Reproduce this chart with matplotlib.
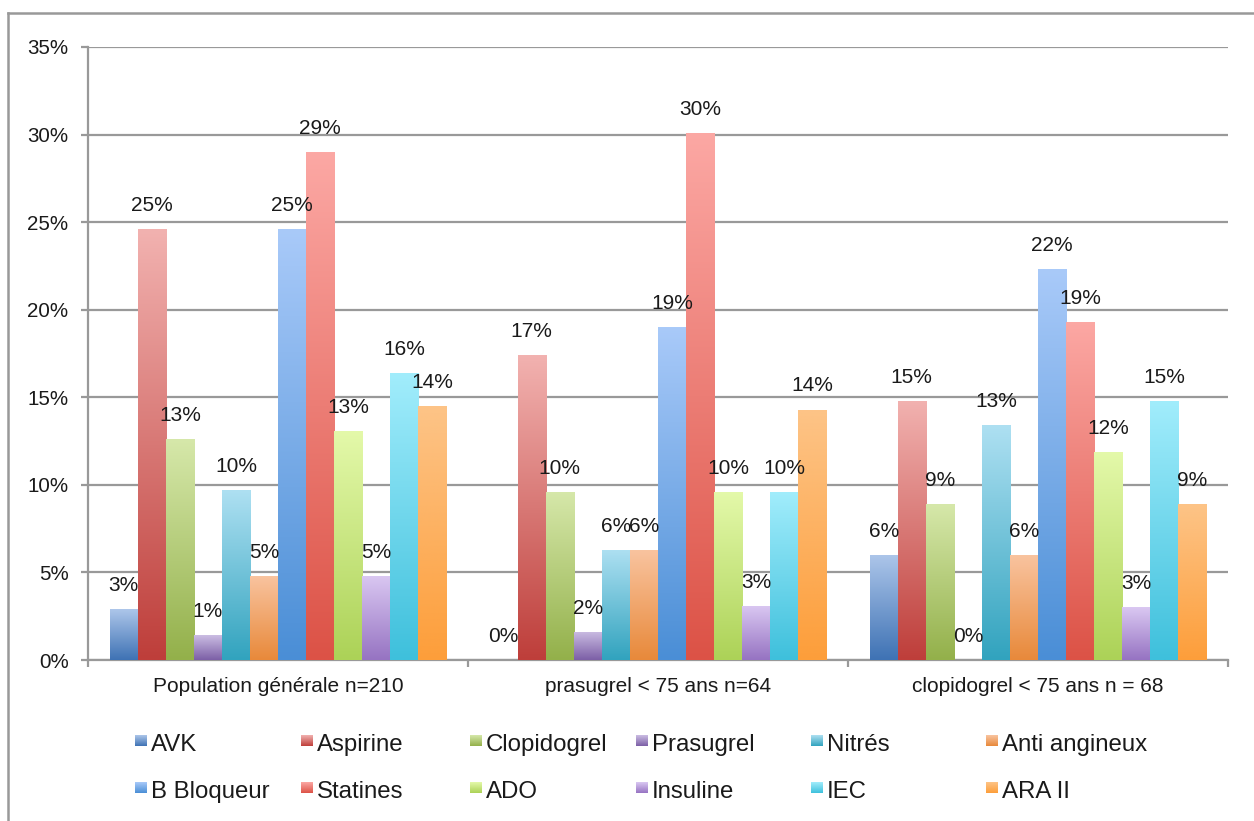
import numpy as np
import matplotlib
matplotlib.use("Agg")
import matplotlib.pyplot as plt
from matplotlib.colors import LinearSegmentedColormap
from matplotlib.lines import Line2D
from matplotlib.ticker import FuncFormatter

plt.rcParams['font.family'] = ['Liberation Sans', 'DejaVu Sans']

groups = ["Population générale n=210", "prasugrel < 75 ans n=64", "clopidogrel < 75 ans n = 68"]
series = ["AVK", "Aspirine", "Clopidogrel", "Prasugrel", "Nitrés", "Anti angineux",
          "B Bloqueur", "Statines", "ADO", "Insuline", "IEC", "ARA II"]

# values in %, one list per series (3 groups)
avk = [2.9, 0.0, 6.0]
aspirine = [24.6, 17.4, 14.8]
clopidogrel = [12.6, 9.6, 8.9]
prasugrel = [1.4, 1.6, 0.0]
nitres = [9.7, 6.3, 13.4]
anti_angineux = [4.8, 6.3, 6.0]
b_bloqueur = [24.6, 19.0, 22.3]
statines = [29.0, 30.1, 19.3]
ado = [13.1, 9.6, 11.9]
insuline = [4.8, 3.1, 3.0]
iec = [16.4, 9.6, 14.8]
ara2 = [14.5, 14.3, 8.9]

values = [avk, aspirine, clopidogrel, prasugrel, nitres, anti_angineux,
          b_bloqueur, statines, ado, insuline, iec, ara2]

# (top colour, bottom colour) for the vertical gradient
colors = [("#adc6ea", "#3e72b4"), ("#f2b2b0", "#be3e3a"), ("#d6e8aa", "#93b04a"),
          ("#cbbde3", "#7c5fa6"), ("#aee0f2", "#31a3be"), ("#f9c4a0", "#e8893a"),
          ("#a9caf9", "#4a8ed6"), ("#fca8a4", "#dc5246"), ("#e4f9aa", "#acd257"),
          ("#dac8f2", "#9673c2"), ("#a2edfc", "#3ec0dc"), ("#fdc487", "#fd9e3a")]

fig = plt.figure(figsize=(12.54, 8.21), dpi=100)
W, H = 1254, 821
ax = fig.add_axes([88 / W, 1 - 660 / H, (1228 - 88) / W, (660 - 47) / H])

n = len(series)
bw = 0.0738
x = np.arange(len(groups))
grad = np.linspace(0, 1, 256).reshape(-1, 1)

for i, (name, vals) in enumerate(zip(series, values)):
    off = -bw * n / 2 + bw * (i + 0.5)
    bars = ax.bar(x + off, vals, width=bw, color=colors[i][1], zorder=3, linewidth=0)
    cmap = LinearSegmentedColormap.from_list(name, [colors[i][1], colors[i][0]])
    for b, v in zip(bars, vals):
        if v > 0:
            x0 = b.get_x()
            im = ax.imshow(grad, cmap=cmap, origin="lower", aspect="auto",
                           extent=(x0, x0 + bw, 0, v), zorder=4)
            im.set_clip_path(b)
        ax.annotate(f"{v:.0f}%", (b.get_x() + bw / 2, v), xytext=(0, 13),
                    textcoords="offset points", ha="center", va="baseline",
                    fontsize=15, color="#1a1a1a", zorder=6)

ax.set_xlim(-0.5, 2.5)
ax.set_ylim(0, 35)
ax.set_yticks(np.arange(0, 36, 5))
ax.yaxis.set_major_formatter(FuncFormatter(lambda v, p: f"{v:.0f}%"))
ax.grid(axis="y", color="#999999", linewidth=1.6, zorder=0)
ax.set_axisbelow(True)

ax.set_xticks([-0.5, 0.5, 1.5, 2.5])
ax.set_xticklabels([])
ax.set_xticks(x, minor=True)
ax.set_xticklabels(groups, minor=True)
ax.tick_params(axis="x", which="minor", length=0, pad=12, labelsize=15, labelcolor="#1a1a1a")
ax.tick_params(axis="x", which="major", length=5, width=1.6, color="#999999", direction="out")
ax.tick_params(axis="y", length=5, width=1.6, color="#999999", pad=9, labelsize=14.8,
               labelcolor="#1a1a1a")

for s in ["top", "right"]:
    ax.spines[s].set_visible(False)
for s in ["left", "bottom"]:
    ax.spines[s].set_color("#999999")
    ax.spines[s].set_linewidth(1.6)

# legend laid out as in the original: 2 rows x 6 columns
col_x = [135, 301, 470, 636, 811, 986]
row_y = [745, 792]
for i, name in enumerate(series):
    cx = col_x[i % 6]
    cy = row_y[i // 6]
    cmap = LinearSegmentedColormap.from_list("l" + name, [colors[i][1], colors[i][0]])
    lax = fig.add_axes([cx / W, 1 - (cy + 1) / H, 12 / W, 11 / H])
    lax.imshow(grad, cmap=cmap, origin="lower", aspect="auto")
    lax.set_axis_off()
    fig.text((cx + 16) / W, 1 - cy / H, name, fontsize=17.3, va="center", ha="left",
             color="#1a1a1a")

# outer chart frame (top and left edges visible)
fig.add_artist(Line2D([8 / W, 8 / W], [0, 1 - 13 / H], transform=fig.transFigure,
                      color="#999999", linewidth=1.8))
fig.add_artist(Line2D([8 / W, 1], [1 - 13 / H, 1 - 13 / H], transform=fig.transFigure,
                      color="#999999", linewidth=1.8))

fig.savefig("out.png", dpi=100)
